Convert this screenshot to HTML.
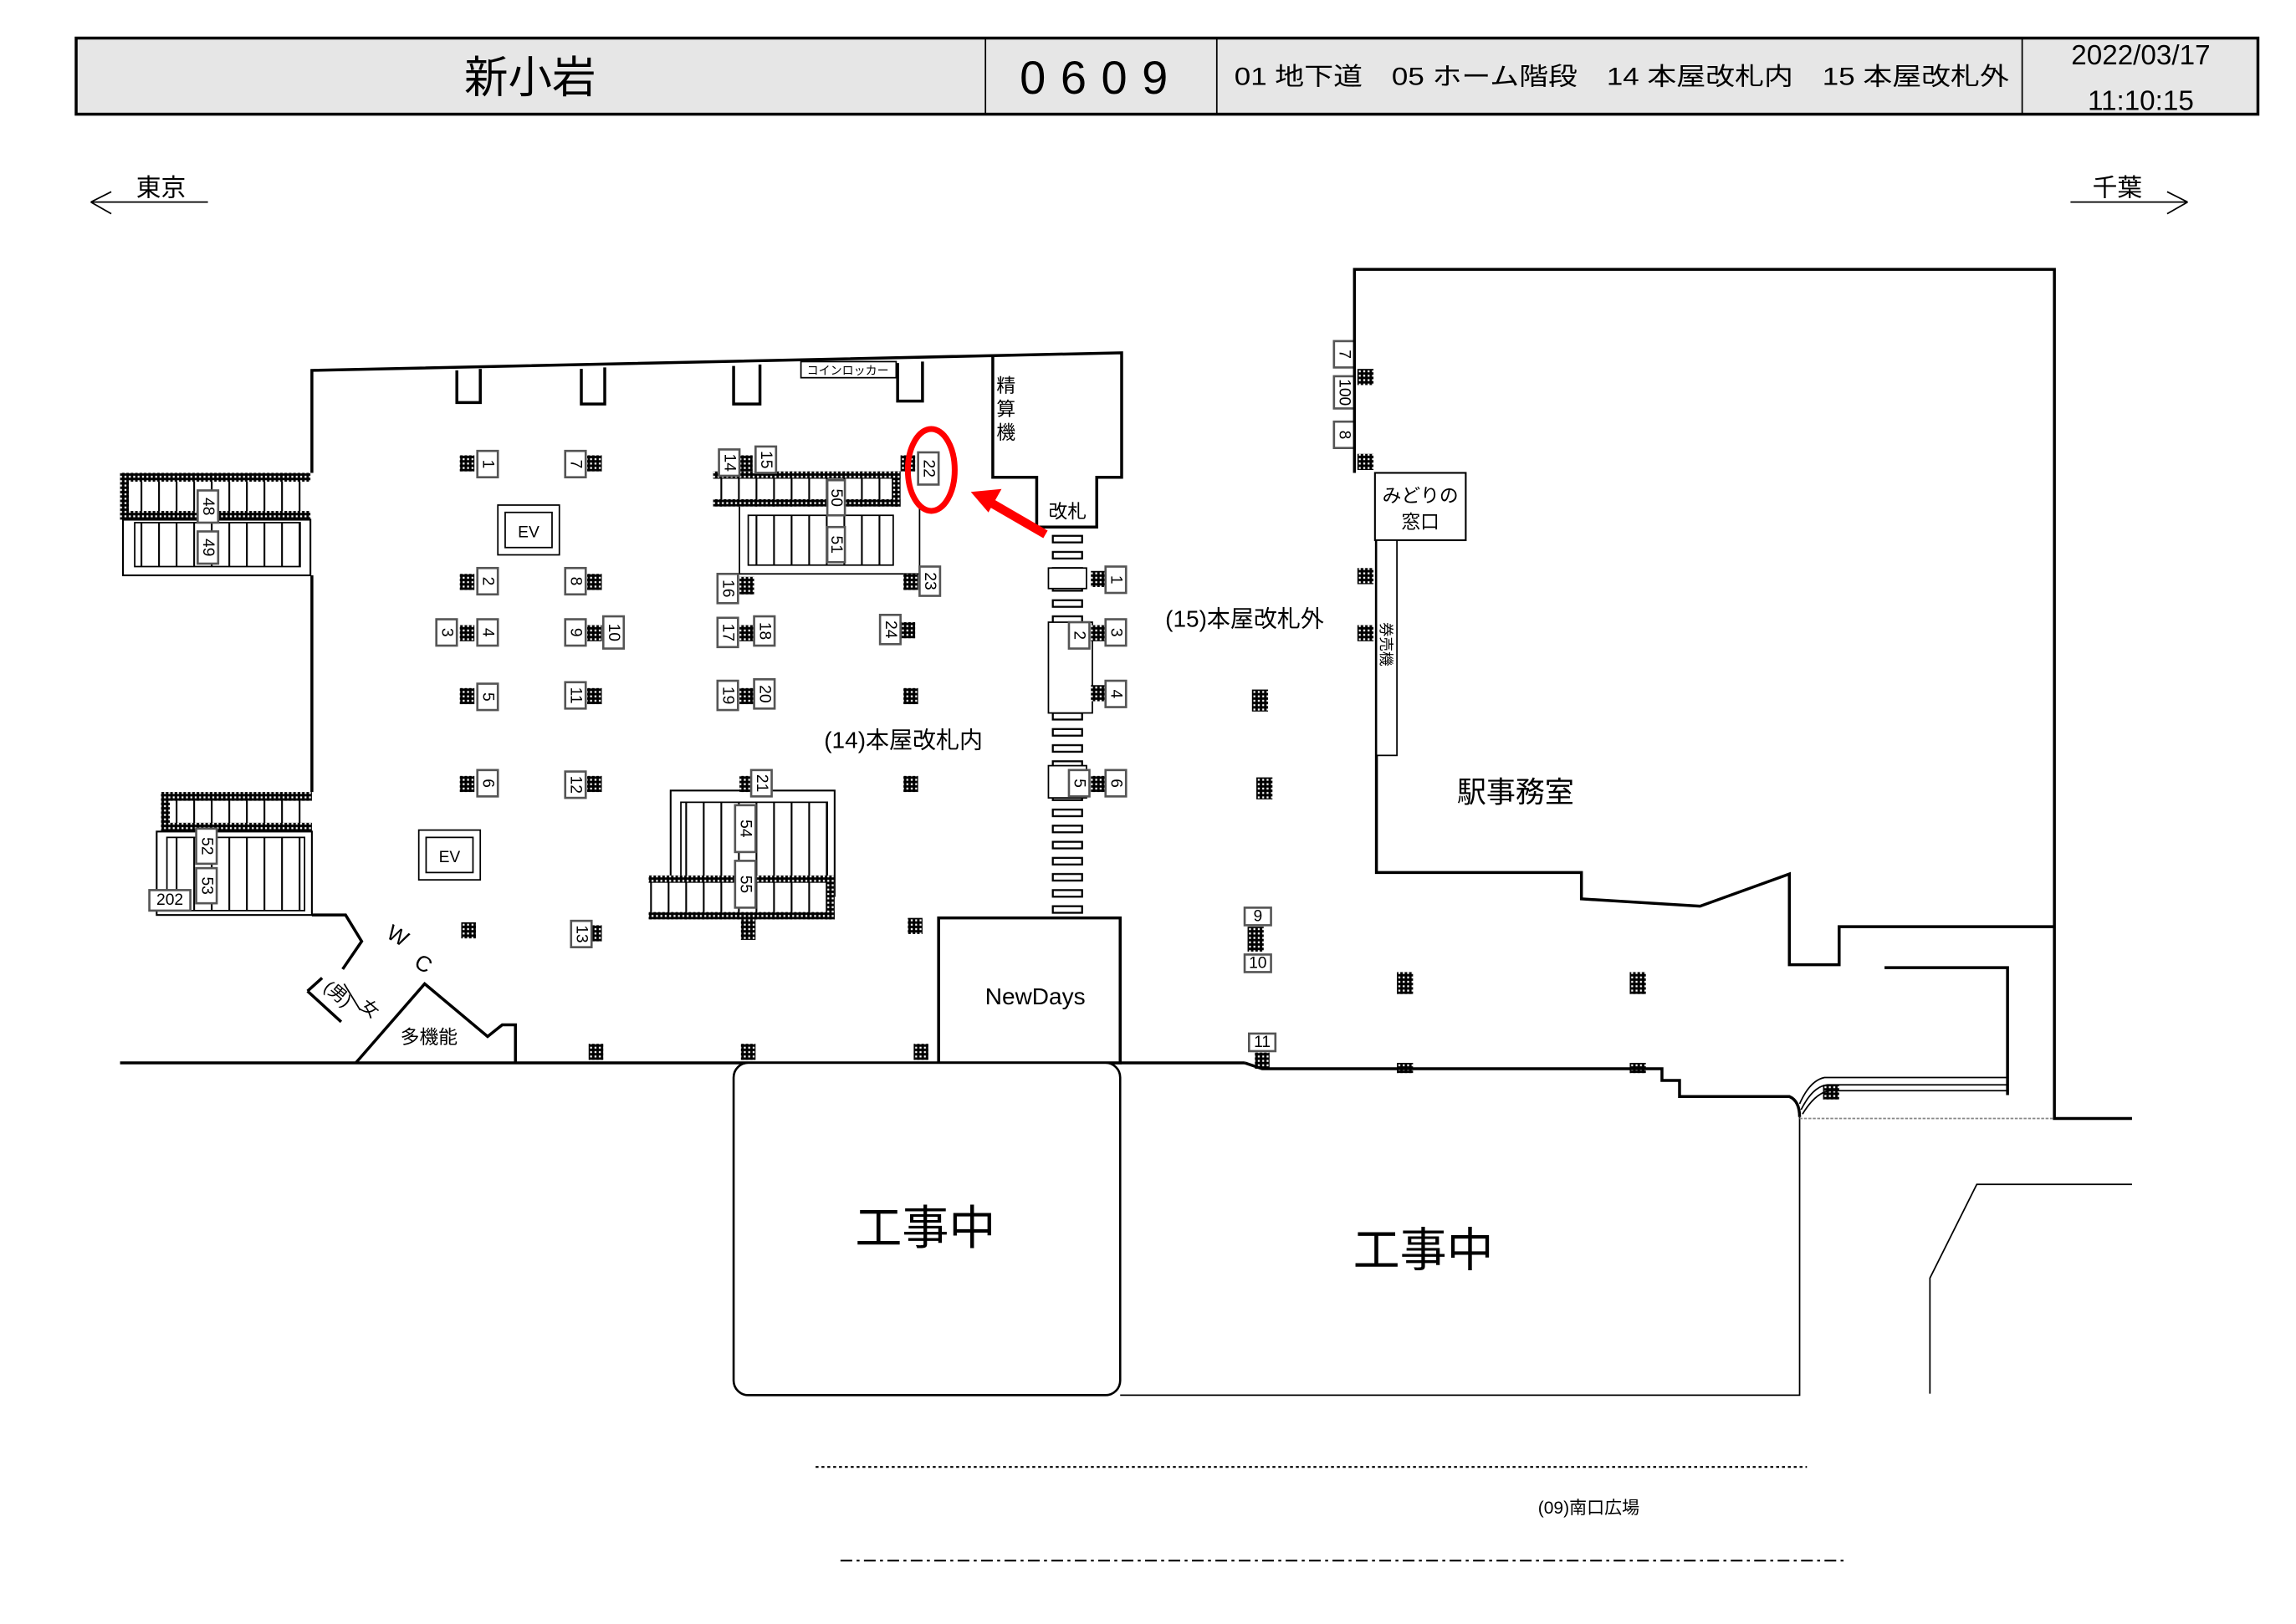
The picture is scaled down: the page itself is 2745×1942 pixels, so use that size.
<!DOCTYPE html>
<html><head><meta charset="utf-8"><style>
html,body{margin:0;padding:0;background:#fff}
svg{display:block}
text{font-family:"Liberation Sans","Noto Sans CJK JP",sans-serif;fill:#000}
.l{fill:none;stroke:#000;stroke-width:2}
.t{fill:none;stroke:#000;stroke-width:1}
.b rect{fill:#fff;stroke:#555;stroke-width:1.5}
.b text{font-size:11px;text-anchor:middle;dominant-baseline:central}
.p{fill:url(#dots)}
.db{fill:url(#dots)}
</style></head><body>
<svg width="2745" height="1942" viewBox="0 0 1568 1109.3" xmlns="http://www.w3.org/2000/svg">
<defs>
<pattern id="dots" width="3" height="3" patternUnits="userSpaceOnUse"><rect width="3" height="3" fill="#000"/><rect x="1" y="1" width="1.3" height="1.3" fill="#fff"/></pattern>
<pattern id="steps" width="12" height="10" patternUnits="userSpaceOnUse"><rect width="12" height="10" fill="#fff"/><rect x="0" width="1.2" height="10" fill="#000"/></pattern>
<pattern id="hsteps" x="718" y="363" width="22" height="11" patternUnits="userSpaceOnUse"><rect width="22" height="11" fill="#fff"/><rect x="1" y="3" width="20" height="4.5" fill="#fff" stroke="#000" stroke-width="1.3"/></pattern>
</defs>

<!-- header -->
<rect x="52" y="26" width="1490" height="52" fill="#e6e6e6" stroke="#000" stroke-width="2"/>
<line x1="673" y1="26" x2="673" y2="78" stroke="#000"/>
<line x1="831" y1="26" x2="831" y2="78" stroke="#000"/>
<line x1="1381" y1="26" x2="1381" y2="78" stroke="#000"/>
<text x="362" y="63" font-size="30" text-anchor="middle">新小岩</text>
<text x="752" y="64" font-size="32" text-anchor="middle" letter-spacing="10">0609</text>
<text x="843" y="58" font-size="17" textLength="529" lengthAdjust="spacingAndGlyphs">01 地下道　05 ホーム階段　14 本屋改札内　15 本屋改札外</text>
<text x="1462" y="44" font-size="19" text-anchor="middle">2022/03/17</text>
<text x="1462" y="75" font-size="19" text-anchor="middle">11:10:15</text>

<!-- direction -->
<text x="110" y="134" font-size="17" text-anchor="middle">東京</text>
<path class="t" d="M62,138 H142 M62,138 L76,131 M62,138 L76,146" stroke-width="1.5"/>
<text x="1446" y="134" font-size="17" text-anchor="middle">千葉</text>
<path class="t" d="M1414,138 H1494 M1494,138 L1480,131 M1494,138 L1480,146" stroke-width="1.5"/>

<!-- left building outline -->
<path class="l" d="M213,323 V253 L766,241 V326 H749 V360 H708 V326 H678 V243"/>
<path class="l" d="M213,393 V541"/>
<path class="l" d="M213,625 H236 L247,643 L234,662"/>
<path class="l" d="M82,726 H850"/>
<!-- lockers -->
<path class="l" d="M312,253 V275 H328 V252 M397,252 V276 H413 V251 M501,250 V276 H519 V249 M613,248 V274 H630 V247" stroke-width="1.5"/>
<rect x="547" y="247" width="65" height="11" fill="#fff" stroke="#000" stroke-width="1"/>
<text x="579" y="256" font-size="8" text-anchor="middle">コインロッカー</text>
<text x="687" y="268" font-size="13" text-anchor="middle">精</text>
<text x="687" y="284" font-size="13" text-anchor="middle">算</text>
<text x="687" y="300" font-size="13" text-anchor="middle">機</text>
<text x="729" y="354" font-size="13" text-anchor="middle">改札</text>

<!-- left upper escalator -->
<rect x="82" y="323" width="130" height="32" fill="url(#steps)"/>
<rect x="82" y="323" width="130" height="6" class="db"/>
<rect x="82" y="349" width="130" height="6" class="db"/>
<rect x="82" y="323" width="6" height="32" class="db"/>
<rect x="84" y="355" width="128" height="38" fill="#fff" stroke="#000" stroke-width="1.2"/>
<rect x="92" y="357" width="113" height="30" fill="url(#steps)" stroke="#000"/>
<g class="b"><g transform="translate(142,346)"><rect x="-7" y="-11" width="14" height="22"/><text transform="rotate(90)">48</text></g><g transform="translate(142,374)"><rect x="-7" y="-11" width="14" height="22"/><text transform="rotate(90)">49</text></g></g>

<!-- left lower escalator -->
<rect x="110" y="541" width="103" height="26" fill="url(#steps)"/>
<rect x="110" y="541" width="103" height="6" class="db"/>
<rect x="110" y="562" width="103" height="6" class="db"/>
<rect x="110" y="541" width="6" height="27" class="db"/>
<rect x="107" y="568" width="106" height="57" fill="#fff" stroke="#000" stroke-width="1.2"/>
<rect x="114" y="572" width="94" height="50" fill="url(#steps)" stroke="#000"/>
<g class="b"><g transform="translate(141,578)"><rect x="-7" y="-12" width="14" height="24"/><text transform="rotate(90)">52</text></g><g transform="translate(141,605)"><rect x="-7" y="-12" width="14" height="24"/><text transform="rotate(90)">53</text></g><g transform="translate(116,615)"><rect x="-14" y="-7" width="28" height="14"/><text>202</text></g></g>

<!-- center upper escalator -->
<rect x="487" y="322" width="128" height="24" fill="url(#steps)"/>
<rect x="487" y="322" width="128" height="5" class="db"/>
<rect x="487" y="341" width="128" height="5" class="db"/>
<rect x="609" y="322" width="6" height="24" class="db"/>
<path class="t" d="M505,346 V392 H628 V346" stroke-width="1.2"/>
<rect x="511" y="352" width="99" height="34" fill="url(#steps)" stroke="#000"/>
<g class="b"><g transform="translate(571,340)"><rect x="-6" y="-12" width="12" height="24"/><text transform="rotate(90)">50</text></g><g transform="translate(571,372)"><rect x="-6" y="-12" width="12" height="24"/><text transform="rotate(90)">51</text></g></g>

<!-- center lower escalator -->
<rect x="458" y="540" width="112" height="72" fill="#fff" stroke="#000" stroke-width="1.2"/>
<rect x="465" y="548" width="100" height="57" fill="url(#steps)" stroke="#000"/>
<rect x="443" y="598" width="127" height="30" fill="url(#steps)"/>
<rect x="443" y="598" width="127" height="5" class="db"/>
<rect x="443" y="623" width="127" height="5" class="db"/>
<rect x="564" y="598" width="6" height="30" class="db"/>
<rect x="506" y="628" width="10" height="14" class="p"/>
<g class="b"><g transform="translate(509,566)"><rect x="-7" y="-16" width="14" height="32"/><text transform="rotate(90)">54</text></g><g transform="translate(509,604)"><rect x="-7" y="-16" width="14" height="32"/><text transform="rotate(90)">55</text></g></g>

<!-- EVs -->
<rect x="340" y="345" width="42" height="34" fill="#fff" stroke="#000"/><rect x="345" y="350" width="32" height="24" fill="#fff" stroke="#000"/><text x="361" y="367" font-size="11" text-anchor="middle">EV</text>
<rect x="286" y="567" width="42" height="34" fill="#fff" stroke="#000"/><rect x="291" y="572" width="32" height="24" fill="#fff" stroke="#000"/><text x="307" y="589" font-size="11" text-anchor="middle">EV</text>

<!-- gate stripes -->
<rect x="718" y="363" width="22" height="264" fill="url(#hsteps)"/>
<rect x="716" y="388" width="26" height="14" fill="#fff" stroke="#000"/>
<rect x="716" y="425" width="30" height="62" fill="#fff" stroke="#000"/>
<rect x="716" y="523" width="26" height="22" fill="#fff" stroke="#000"/>

<!-- pillars -->
<g>
<rect class="p" x="314" y="311" width="10" height="11"/><rect class="p" x="401" y="311" width="10" height="11"/><rect class="p" x="505" y="311" width="9" height="11"/><rect class="p" x="615" y="311" width="10" height="11"/>
<rect class="p" x="314" y="392" width="10" height="11"/><rect class="p" x="401" y="392" width="10" height="11"/><rect class="p" x="505" y="394" width="10" height="12"/><rect class="p" x="617" y="392" width="10" height="11"/>
<rect class="p" x="314" y="427" width="10" height="11"/><rect class="p" x="401" y="427" width="10" height="11"/><rect class="p" x="505" y="427" width="10" height="11"/><rect class="p" x="615" y="425" width="10" height="11"/>
<rect class="p" x="314" y="470" width="10" height="11"/><rect class="p" x="401" y="470" width="10" height="11"/><rect class="p" x="505" y="470" width="10" height="11"/><rect class="p" x="617" y="470" width="10" height="11"/>
<rect class="p" x="314" y="530" width="10" height="11"/><rect class="p" x="401" y="530" width="10" height="11"/><rect class="p" x="505" y="530" width="10" height="11"/><rect class="p" x="617" y="530" width="10" height="11"/>
<rect class="p" x="315" y="630" width="10" height="11"/><rect class="p" x="401" y="632" width="10" height="11"/><rect class="p" x="620" y="627" width="10" height="11"/>
<rect class="p" x="402" y="713" width="10" height="11"/><rect class="p" x="506" y="713" width="10" height="11"/><rect class="p" x="624" y="713" width="10" height="11"/>
<rect class="p" x="745" y="390" width="10" height="11"/><rect class="p" x="745" y="427" width="10" height="11"/><rect class="p" x="745" y="468" width="10" height="11"/><rect class="p" x="745" y="530" width="10" height="11"/>
<rect class="p" x="855" y="471" width="11" height="15"/><rect class="p" x="858" y="531" width="11" height="15"/><rect class="p" x="852" y="633" width="11" height="17"/>
<rect class="p" x="857" y="719" width="10" height="11"/><rect class="p" x="954" y="664" width="11" height="15"/><rect class="p" x="1113" y="664" width="11" height="15"/>
<rect class="p" x="954" y="726" width="11" height="7"/><rect class="p" x="1113" y="726" width="11" height="7"/><rect class="p" x="1245" y="741" width="11" height="10"/>
<rect class="p" x="927" y="252" width="11" height="11"/><rect class="p" x="927" y="310" width="11" height="11"/><rect class="p" x="927" y="388" width="11" height="11"/><rect class="p" x="927" y="427" width="11" height="11"/>
</g>

<!-- number boxes -->
<g class="b">
<g transform="translate(333,317)"><rect x="-7" y="-9" width="14" height="18"/><text transform="rotate(90)">1</text></g>
<g transform="translate(393,317)"><rect x="-7" y="-9" width="14" height="18"/><text transform="rotate(90)">7</text></g>
<g transform="translate(498,316)"><rect x="-7" y="-9" width="14" height="18"/><text transform="rotate(90)">14</text></g>
<g transform="translate(523,314)"><rect x="-7" y="-9" width="14" height="18"/><text transform="rotate(90)">15</text></g>
<g transform="translate(634,320)"><rect x="-7" y="-11" width="14" height="22"/><text transform="rotate(90)">22</text></g>
<g transform="translate(333,397)"><rect x="-7" y="-9" width="14" height="18"/><text transform="rotate(90)">2</text></g>
<g transform="translate(393,397)"><rect x="-7" y="-9" width="14" height="18"/><text transform="rotate(90)">8</text></g>
<g transform="translate(497,402)"><rect x="-7" y="-10" width="14" height="20"/><text transform="rotate(90)">16</text></g>
<g transform="translate(635,397)"><rect x="-7" y="-10" width="14" height="20"/><text transform="rotate(90)">23</text></g>
<g transform="translate(305,432)"><rect x="-7" y="-9" width="14" height="18"/><text transform="rotate(90)">3</text></g>
<g transform="translate(333,432)"><rect x="-7" y="-9" width="14" height="18"/><text transform="rotate(90)">4</text></g>
<g transform="translate(393,432)"><rect x="-7" y="-9" width="14" height="18"/><text transform="rotate(90)">9</text></g>
<g transform="translate(419,432)"><rect x="-7" y="-11" width="14" height="22"/><text transform="rotate(90)">10</text></g>
<g transform="translate(497,432)"><rect x="-7" y="-10" width="14" height="20"/><text transform="rotate(90)">17</text></g>
<g transform="translate(522,431)"><rect x="-7" y="-10" width="14" height="20"/><text transform="rotate(90)">18</text></g>
<g transform="translate(608,430)"><rect x="-7" y="-10" width="14" height="20"/><text transform="rotate(90)">24</text></g>
<g transform="translate(333,476)"><rect x="-7" y="-9" width="14" height="18"/><text transform="rotate(90)">5</text></g>
<g transform="translate(393,475)"><rect x="-7" y="-9" width="14" height="18"/><text transform="rotate(90)">11</text></g>
<g transform="translate(497,475)"><rect x="-7" y="-10" width="14" height="20"/><text transform="rotate(90)">19</text></g>
<g transform="translate(522,474)"><rect x="-7" y="-10" width="14" height="20"/><text transform="rotate(90)">20</text></g>
<g transform="translate(333,535)"><rect x="-7" y="-9" width="14" height="18"/><text transform="rotate(90)">6</text></g>
<g transform="translate(393,536)"><rect x="-7" y="-9" width="14" height="18"/><text transform="rotate(90)">12</text></g>
<g transform="translate(520,535)"><rect x="-7" y="-9" width="14" height="18"/><text transform="rotate(90)">21</text></g>
<g transform="translate(397,638)"><rect x="-7" y="-9" width="14" height="18"/><text transform="rotate(90)">13</text></g>
<g transform="translate(762,396)"><rect x="-7" y="-9" width="14" height="18"/><text transform="rotate(90)">1</text></g>
<g transform="translate(737,434)"><rect x="-7" y="-9" width="14" height="18"/><text transform="rotate(90)">2</text></g>
<g transform="translate(762,432)"><rect x="-7" y="-9" width="14" height="18"/><text transform="rotate(90)">3</text></g>
<g transform="translate(762,474)"><rect x="-7" y="-9" width="14" height="18"/><text transform="rotate(90)">4</text></g>
<g transform="translate(737,535)"><rect x="-7" y="-9" width="14" height="18"/><text transform="rotate(90)">5</text></g>
<g transform="translate(762,535)"><rect x="-7" y="-9" width="14" height="18"/><text transform="rotate(90)">6</text></g>
<g transform="translate(859,626)"><rect x="-9" y="-6" width="18" height="12"/><text>9</text></g>
<g transform="translate(859,658)"><rect x="-9" y="-6" width="18" height="12"/><text>10</text></g>
<g transform="translate(862,712)"><rect x="-9" y="-6" width="18" height="12"/><text>11</text></g>
<g transform="translate(918,242)"><rect x="-7" y="-9" width="14" height="18"/><text transform="rotate(90)">7</text></g>
<g transform="translate(918,268)"><rect x="-7" y="-11" width="14" height="22"/><text transform="rotate(90)">100</text></g>
<g transform="translate(918,297)"><rect x="-7" y="-9" width="14" height="18"/><text transform="rotate(90)">8</text></g>
</g>

<!-- red marker -->
<ellipse cx="636" cy="321" rx="16" ry="28" fill="none" stroke="#f00" stroke-width="4"/>
<line x1="714" y1="365" x2="676" y2="343" stroke="#f00" stroke-width="6"/>
<polygon points="663,336 684,334 675,350" fill="#f00"/>

<!-- WC / multi -->
<path class="l" d="M210,677 L233,698 M220,668 L210,677" stroke-width="1.5"/>
<path class="t" d="M235,672 L246,690"/>
<text x="228" y="682" font-size="12" text-anchor="middle" transform="rotate(40 228 682)">(男)</text>
<text x="250" y="692" font-size="12" text-anchor="middle" transform="rotate(40 250 692)">女</text>
<text x="263" y="640" font-size="15" transform="rotate(30 263 640)">W</text>
<text x="282" y="660" font-size="15" transform="rotate(30 282 660)">C</text>
<path class="l" d="M243,726 L290,672 L333,708 L343,700 H352 V726"/>
<text x="293" y="713" font-size="13" text-anchor="middle">多機能</text>

<text x="617" y="511" font-size="16" text-anchor="middle">(14)本屋改札内</text>
<text x="850" y="428" font-size="16" text-anchor="middle">(15)本屋改札外</text>

<!-- NewDays -->
<rect x="641" y="627" width="124" height="99" fill="#fff" stroke="#000" stroke-width="2"/>
<text x="707" y="686" font-size="16" text-anchor="middle">NewDays</text>

<!-- construction -->
<rect x="501" y="726" width="264" height="227" rx="10" fill="#fff" stroke="#000" stroke-width="1.5"/>
<text x="632" y="850" font-size="32" text-anchor="middle">工事中</text>
<path class="t" d="M765,953 H1229 V763" stroke-width="1.5"/>
<text x="972" y="865" font-size="32" text-anchor="middle">工事中</text>
<path class="l" d="M850,726 L862,730 H1135 V738 H1147 V749 H1222 Q1229,752 1229,763" stroke-width="1.5"/>

<!-- office -->
<path class="l" d="M925,323 V184 H1403 V764 H1456"/>
<path class="l" d="M940,369 V596 H1080 V614 L1161,619 L1222,597 V659 H1256 V633 H1403"/>
<path class="l" d="M1287,661 H1371 V748" stroke-width="1.5"/>
<path class="t" d="M1229,754 Q1236,738 1246,736 H1371 M1230,758 Q1238,742 1248,741 H1371 M1231,761 Q1240,746 1250,745 H1371"/>
<line x1="1229" y1="764" x2="1403" y2="764" stroke="#888" stroke-width="1" stroke-dasharray="2,1"/>
<rect x="939" y="323" width="62" height="46" fill="#fff" stroke="#000" stroke-width="1.2"/>
<text x="970" y="343" font-size="13" text-anchor="middle">みどりの</text>
<text x="970" y="361" font-size="13" text-anchor="middle">窓口</text>
<rect x="940" y="369" width="14" height="147" fill="#fff" stroke="#000" stroke-width="1"/>
<text x="947" y="444" font-size="10" text-anchor="middle" transform="rotate(90 947 440)">券売機</text>
<text x="1035" y="548" font-size="20" text-anchor="middle">駅事務室</text>
<path class="t" d="M1456,809 H1350 L1318,873 V952" stroke="#333"/>

<!-- plaza -->
<line x1="557" y1="1002" x2="1234" y2="1002" stroke="#000" stroke-width="1.2" stroke-dasharray="2,2"/>
<text x="1085" y="1034" font-size="12" text-anchor="middle">(09)南口広場</text>
<line x1="574" y1="1066" x2="1262" y2="1066" stroke="#000" stroke-width="1.2" stroke-dasharray="8,3,2,3"/>
</svg>
</body></html>
